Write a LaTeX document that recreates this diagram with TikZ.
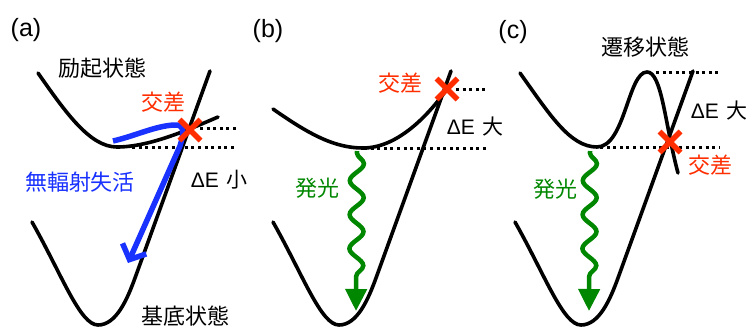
\documentclass[tikz,border=0pt]{standalone}
\usepackage{fontspec}
\setmainfont{Liberation Sans}
\newfontfamily\jp{Noto Sans CJK JP}
\usetikzlibrary{arrows.meta,decorations.pathmorphing,shapes.misc}
\definecolor{cred}{RGB}{255,45,0}
\definecolor{cblue}{RGB}{25,50,255}
\definecolor{cgreen}{RGB}{0,135,0}
\begin{document}
\begin{tikzpicture}[x=1pt,y=-1pt,
  curve/.style={line width=3.6pt, line cap=round},
  dots/.style={line width=3pt, dash pattern=on 3pt off 3.6pt},
  lbl/.style={inner sep=0pt, font=\jp\fontsize{22}{24}\selectfont},
  panel/.style={inner sep=0pt, font=\fontsize{25}{28}\selectfont},
  de/.style={inner sep=0pt, font=\fontsize{21}{24}\selectfont},
  xmark/.style={cross out, draw=cred, line width=5.5pt, minimum size=21pt, inner sep=0pt, outer sep=0pt},
  wave/.style={cgreen, line width=4.5pt, decorate,
    decoration={snake, segment length=34pt, amplitude=7pt, pre length=2pt, post length=22pt},
    -{Triangle[length=22pt,width=21pt]}},
  blue arrow/.style={cblue, line width=5.5pt, -{Straight Barb[length=12pt,width=26pt]}}
  ]
\useasboundingbox (0,0) rectangle (753,327);

% ---------- panel (a) ----------
\draw[curve] (38,73) .. controls (66,113) and (90,147) .. (117,147)
   .. controls (150,147) and (190,129) .. (218,117);
\draw[curve] (32,222) .. controls (62,275) and (80,325) .. (98,325)
   .. controls (116,325) and (127,300) .. (135,278) -- (210,71);
\draw[dots] (200,128) -- (236,128);
\draw[dots] (132,147) -- (236,147);
\coordinate (bs) at (113,141);
\coordinate (be) at (128,263);
\draw[blue arrow] (bs) .. controls (135,136) and (155,126) .. (174,125)
   .. controls (185,124) and (184,133) .. (180,146) -- (be);
\node[xmark] (xa) at (190,130) {};
\node[panel] (la) at (26,30) {(a)};
\node[lbl] (exa) at (102,68) {励起状態};
\node[lbl, text=cred] (cra) at (163,102) {交差};
\node[lbl, text=cblue] (nr) at (80,182) {無輻射失活};
\node[de] (dea) at (219,180) {ΔE\hspace{0.35em}{\jp 小}};
\node[lbl] (gsa) at (185,316) {基底状態};

% ---------- panel (b) ----------
\draw[curve] (273,109) .. controls (310,135) and (335,148) .. (363,148)
   .. controls (395,148) and (425,120) .. (447,89);
\begin{scope}[shift={(241,0)}]
\draw[curve] (32,222) .. controls (62,275) and (80,325) .. (98,325)
   .. controls (116,325) and (127,300) .. (135,278) -- (210,71);
\end{scope}
\draw[dots] (456,89) -- (488,89);
\draw[dots] (364,148) -- (488,148);
\coordinate (ws1) at (357,151);
\coordinate (we1) at (356,311);
\draw[wave] (ws1) -- (we1);
\node[xmark] (xb) at (447,89) {};
\node[panel] (lb) at (268,31) {(b)};
\node[lbl, text=cred] (crb) at (400,83) {交差};
\node[de] (deb) at (475,127) {ΔE\hspace{0.35em}{\jp 大}};
\node[lbl, text=cgreen] (emb) at (317,188) {発光};

% ---------- panel (c) ----------
\draw[curve] (520,73) .. controls (550,115) and (570,147) .. (597,147)
   .. controls (625,147) and (628,72) .. (647,72)
   .. controls (662,72) and (665,125) .. (678,173);
\begin{scope}[shift={(483,0)}]
\draw[curve] (32,222) .. controls (62,275) and (80,325) .. (98,325)
   .. controls (116,325) and (127,300) .. (135,278) -- (210,71);
\end{scope}
\draw[dots] (656,72) -- (719,72);
\draw[dots] (600,147) -- (719,147);
\coordinate (ws2) at (590,151);
\coordinate (we2) at (589,311);
\draw[wave] (ws2) -- (we2);
\node[xmark] (xc) at (670,142) {};
\node[panel] (lc) at (513,32) {(c)};
\node[lbl] (tsc) at (645,47) {遷移状態};
\node[de] (dec) at (719,111) {ΔE\hspace{0.35em}{\jp 大}};
\node[lbl, text=cred] (crc) at (710,165) {交差};
\node[lbl, text=cgreen] (emc) at (555,189) {発光};
\end{tikzpicture}
\end{document}
